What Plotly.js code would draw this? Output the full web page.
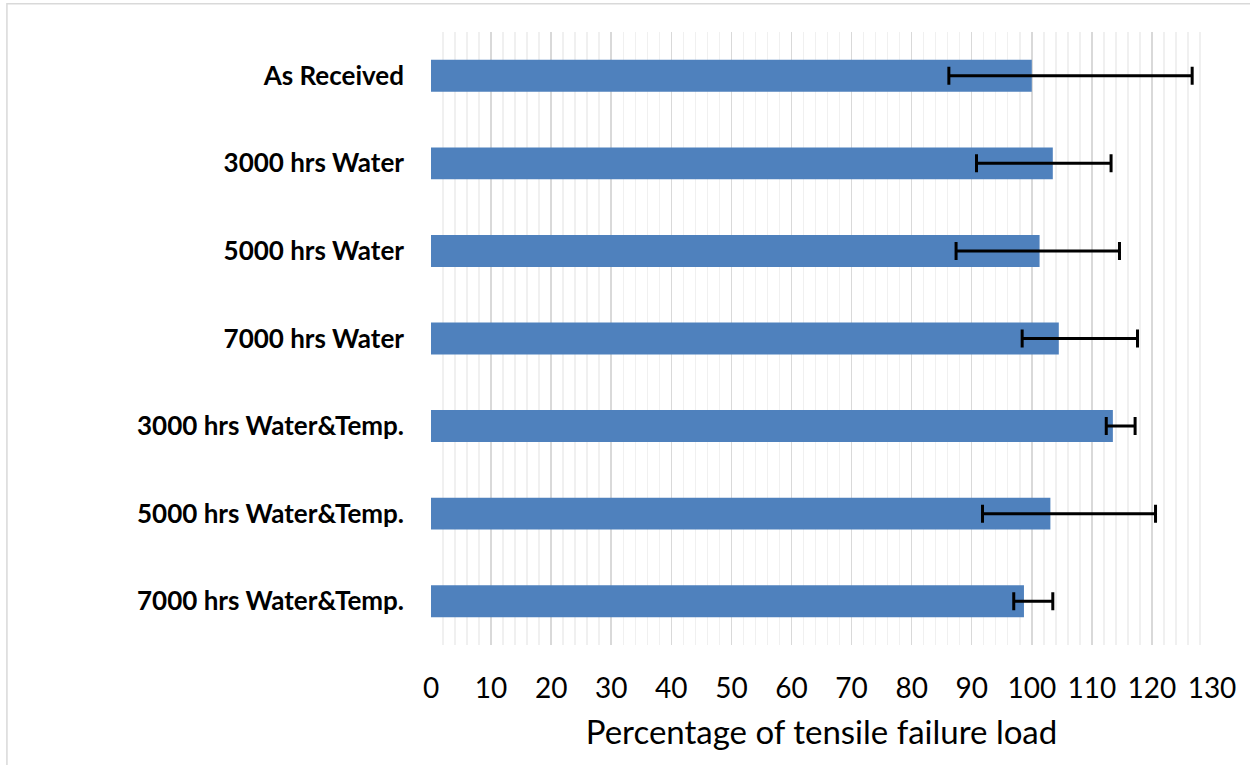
<!DOCTYPE html>
<html>
<head>
<meta charset="utf-8">
<script src="https://cdn.plot.ly/plotly-3.0.1.min.js"></script>
<style>
  html, body { margin: 0; padding: 0; background: #fff; }
  #chart { width: 1250px; height: 765px; }
</style>
</head>
<body>
<div id="chart"></div>
<script>
const categories = [
  "As Received",
  "3000 hrs Water",
  "5000 hrs Water",
  "7000 hrs Water",
  "3000 hrs Water&Temp.",
  "5000 hrs Water&Temp.",
  "7000 hrs Water&Temp."
];
const values     = [100.0, 103.5, 101.3, 104.5, 113.5, 103.1, 98.7];
const errorPlus  = [26.7, 9.7, 13.3, 13.1, 3.7, 17.5, 4.8];
const errorMinus = [13.8, 12.7, 13.9, 6.1, 1.1, 11.3, 1.7];
const xTicks = [0,10,20,30,40,50,60,70,80,90,100,110,120,130];

const trace = {
  type: "bar",
  orientation: "h",
  y: categories,
  x: values,
  marker: { color: "#4f81bd" },
  error_x: {
    type: "data",
    symmetric: false,
    array: errorPlus,
    arrayminus: errorMinus,
    color: "#000000",
    thickness: 3,
    width: 9
  },
  hoverinfo: "x+y"
};

const layout = {
  width: 1250,
  height: 765,
  margin: { l: 431, r: 38, t: 32, b: 120 },
  paper_bgcolor: "#ffffff",
  plot_bgcolor: "#ffffff",
  bargap: 0.635,
  showlegend: false,
  font: { family: "Lato, 'Open Sans', sans-serif", color: "#000" },
  xaxis: {
    range: [0, 130],
    tickvals: xTicks,
    ticktext: xTicks.map(String),
    showgrid: true,
    gridcolor: "#d9d9d9",
    gridwidth: 1.5,
    zeroline: false,
    showline: false,
    ticks: "",
    ticklabelstandoff: 24,
    tickfont: { size: 28, family: "Lato, 'Open Sans', sans-serif", color: "#000" },
    minor: { dtick: 2, showgrid: true, gridcolor: "#f0f0f0", gridwidth: 1.5 },
    title: { text: "Percentage of tensile failure load", font: { size: 33, family: "Lato, 'Open Sans', sans-serif", color: "#000" }, standoff: 17 },
    fixedrange: true
  },
  yaxis: {
    autorange: "reversed",
    type: "category",
    showgrid: false,
    zeroline: false,
    showline: false,
    ticks: "",
    ticklabelstandoff: 26,
    tickfont: { size: 26, family: "Lato, 'Open Sans', sans-serif", color: "#000", weight: "bold" },
    fixedrange: true
  },
  shapes: [{
    type: "rect",
    xref: "paper", yref: "paper",
    x0: -0.543, x1: 1.2, y0: -0.4, y1: 1.046,
    line: { color: "#d9d9d9", width: 1.5 },
    fillcolor: "rgba(0,0,0,0)",
    layer: "below"
  }]
};

Plotly.newPlot("chart", [trace], layout, { displayModeBar: false, staticPlot: true });
</script>
</body>
</html>
